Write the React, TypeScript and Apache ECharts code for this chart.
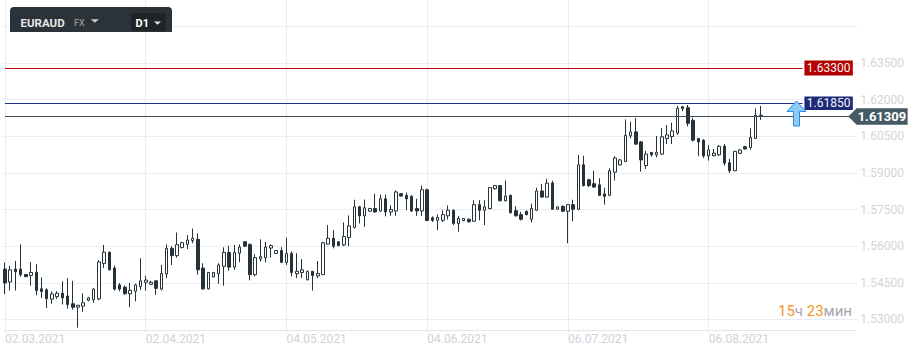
import React, { useEffect, useRef } from "react";
import * as echarts from "echarts";

// ---- data ----
const opens = [
  1.5506, 1.5453, 1.5506, 1.5506, 1.5484, 1.548, 1.5493, 1.5425, 1.5421, 1.5383,
  1.5393, 1.5407, 1.5396, 1.5364, 1.535, 1.5354, 1.5378, 1.5381, 1.5384, 1.5529,
  1.5575, 1.551, 1.5441, 1.5432, 1.5405, 1.5415, 1.5434, 1.5452, 1.5444, 1.5458,
  1.5424, 1.5486, 1.5591, 1.5561, 1.5594, 1.5607, 1.5623, 1.5628, 1.551, 1.5425,
  1.5474, 1.5487, 1.5517, 1.5574, 1.5514, 1.5571, 1.5618, 1.5607, 1.5483, 1.5548,
  1.5553, 1.5592, 1.557, 1.5582, 1.5533, 1.557, 1.5487, 1.5492, 1.5462, 1.5497,
  1.5478, 1.5483, 1.5608, 1.5632, 1.5618, 1.5605, 1.5635, 1.5676, 1.5761, 1.5724,
  1.5743, 1.5754, 1.5744, 1.5794, 1.574, 1.5744, 1.5815, 1.5808, 1.5804, 1.5754,
  1.5744, 1.5831, 1.5716, 1.5706, 1.5706, 1.5724, 1.5747, 1.5693, 1.5704, 1.571,
  1.5702, 1.577, 1.5747, 1.5754, 1.5835, 1.5848, 1.5786, 1.5808, 1.5745, 1.5729,
  1.5743, 1.571, 1.5747, 1.5826, 1.5801, 1.5859, 1.5751, 1.5763, 1.5743, 1.577,
  1.5751, 1.5933, 1.5872, 1.5856, 1.5851, 1.5814, 1.5808, 1.5903, 1.5933, 1.5946,
  1.6052, 1.6068, 1.6027, 1.593, 1.5984, 1.5974, 1.5977, 1.6041, 1.6049, 1.6063,
  1.6171, 1.6167, 1.6115, 1.6041, 1.6034, 1.597, 1.597, 1.5974, 1.6009, 1.5942,
  1.5909, 1.598, 1.6007, 1.6004, 1.6041, 1.6136,
];
const closes = [
  1.5449, 1.5503, 1.5495, 1.5483, 1.5475, 1.5492, 1.5418, 1.5414, 1.5385, 1.5404,
  1.5407, 1.5388, 1.5361, 1.535, 1.5358, 1.5368, 1.5388, 1.5424, 1.5535, 1.5575,
  1.5503, 1.5424, 1.5424, 1.5405, 1.5419, 1.5441, 1.5458, 1.5461, 1.5452, 1.5427,
  1.5488, 1.5591, 1.5561, 1.5606, 1.5614, 1.5625, 1.5632, 1.5503, 1.5425, 1.5492,
  1.5492, 1.5523, 1.5574, 1.5514, 1.5574, 1.5596, 1.56, 1.5483, 1.5553, 1.5557,
  1.5596, 1.5602, 1.5582, 1.5534, 1.557, 1.5492, 1.5497, 1.5503, 1.5497, 1.548,
  1.5488, 1.5614, 1.5632, 1.56, 1.5602, 1.5639, 1.5683, 1.5761, 1.5724, 1.5757,
  1.5754, 1.574, 1.5794, 1.574, 1.575, 1.5822, 1.5805, 1.5794, 1.5744, 1.5744,
  1.5831, 1.5705, 1.5706, 1.5717, 1.5729, 1.5747, 1.5693, 1.5713, 1.5713, 1.57,
  1.577, 1.5747, 1.5761, 1.584, 1.5848, 1.5786, 1.5805, 1.5737, 1.5724, 1.571,
  1.5729, 1.5754, 1.5826, 1.5801, 1.5858, 1.5751, 1.5761, 1.5743, 1.577, 1.5751,
  1.5933, 1.5848, 1.5848, 1.5842, 1.5808, 1.5804, 1.5909, 1.5961, 1.5953, 1.6054,
  1.6068, 1.6018, 1.5953, 1.5977, 1.5974, 1.5984, 1.6048, 1.6056, 1.6072, 1.6164,
  1.6163, 1.6103, 1.6034, 1.6027, 1.597, 1.5994, 1.5981, 1.6009, 1.594, 1.5909,
  1.5988, 1.5994, 1.5998, 1.6045, 1.6136, 1.61309,
];
const lows = [
  1.5404, 1.5418, 1.5418, 1.5475, 1.5473, 1.5438, 1.5399, 1.5388, 1.5347, 1.5364,
  1.5384, 1.5361, 1.5344, 1.534, 1.5266, 1.5331, 1.5374, 1.5368, 1.5378, 1.5511,
  1.55, 1.5418, 1.5415, 1.5401, 1.535, 1.5374, 1.5421, 1.5418, 1.5442, 1.5401,
  1.5419, 1.5469, 1.5523, 1.5553, 1.5591, 1.5588, 1.5612, 1.5483, 1.5421, 1.5423,
  1.5472, 1.5446, 1.5438, 1.5499, 1.5503, 1.5534, 1.5596, 1.546, 1.5476, 1.5537,
  1.5533, 1.5553, 1.5568, 1.553, 1.5523, 1.5476, 1.5469, 1.5469, 1.546, 1.5418,
  1.5469, 1.5482, 1.5607, 1.5591, 1.56, 1.56, 1.56, 1.5672, 1.5693, 1.5679,
  1.574, 1.5737, 1.574, 1.5722, 1.5724, 1.5724, 1.5803, 1.5747, 1.574, 1.5724,
  1.5724, 1.5702, 1.5699, 1.5665, 1.5699, 1.5709, 1.5686, 1.5659, 1.5702, 1.5696,
  1.57, 1.5706, 1.5686, 1.5751, 1.5831, 1.5783, 1.5783, 1.5733, 1.5722, 1.5705,
  1.5726, 1.5697, 1.5744, 1.5798, 1.5798, 1.575, 1.575, 1.574, 1.5612, 1.5702,
  1.5747, 1.5844, 1.5842, 1.5838, 1.5805, 1.577, 1.5805, 1.5869, 1.593, 1.5945,
  1.6041, 1.6014, 1.5905, 1.5916, 1.5966, 1.5964, 1.5974, 1.6018, 1.6018, 1.6056,
  1.6153, 1.609, 1.6029, 1.5968, 1.5961, 1.595, 1.5968, 1.597, 1.593, 1.5899,
  1.5907, 1.5978, 1.5996, 1.5995, 1.604, 1.6117,
];
const highs = [
  1.5533, 1.5519, 1.5539, 1.5607, 1.5486, 1.5535, 1.5526, 1.5472, 1.5427, 1.5415,
  1.5415, 1.5456, 1.5469, 1.5458, 1.5359, 1.5407, 1.5392, 1.5428, 1.5543, 1.5605,
  1.5578, 1.5521, 1.5449, 1.5438, 1.5449, 1.5446, 1.555, 1.5479, 1.5458, 1.5458,
  1.5523, 1.5607, 1.56, 1.5656, 1.5618, 1.5645, 1.5672, 1.5652, 1.553, 1.5494,
  1.5495, 1.553, 1.5595, 1.5602, 1.5605, 1.5607, 1.5618, 1.5611, 1.5567, 1.5628,
  1.5618, 1.5607, 1.5584, 1.5596, 1.5635, 1.5578, 1.5571, 1.5547, 1.5499, 1.5498,
  1.5539, 1.5618, 1.5686, 1.5665, 1.5621, 1.5697, 1.5726, 1.579, 1.5765, 1.5791,
  1.5757, 1.5815, 1.5811, 1.5811, 1.5767, 1.5828, 1.5817, 1.5819, 1.5808, 1.5794,
  1.5848, 1.5835, 1.5722, 1.5729, 1.5747, 1.5767, 1.575, 1.5724, 1.5715, 1.5713,
  1.5788, 1.5788, 1.5788, 1.5842, 1.5851, 1.5849, 1.5869, 1.5811, 1.5763, 1.574,
  1.5745, 1.5774, 1.5839, 1.5855, 1.5876, 1.5868, 1.5762, 1.5767, 1.577, 1.579,
  1.5973, 1.597, 1.5876, 1.5909, 1.5878, 1.5839, 1.5919, 1.5968, 1.5957, 1.6119,
  1.611, 1.6125, 1.6031, 1.599, 1.5984, 1.6051, 1.6083, 1.6096, 1.6106, 1.6174,
  1.6174, 1.6178, 1.6126, 1.6041, 1.6038, 1.6014, 1.5998, 1.6014, 1.6018, 1.5957,
  1.599, 1.5998, 1.6011, 1.6083, 1.6164, 1.6174,
];

const tickLabels = ["02.03.2021", "02.04.2021", "04.05.2021", "04.06.2021", "06.07.2021", "06.08.2021"];
const yTickMin = 1.515;
const yTickMax = 1.65;
const yTickStep = 0.015;

const resistanceLevel = 1.633;
const orderLevel = 1.6185;
const lastPrice = 1.61309;

const timerHours = "15";
const timerMinutes = "23";

// categories: trading days (Sunday–Friday), starting 02.03.2021, plus empty slots to the right
const slotCount = 164;
const pad = (n: number) => String(n).padStart(2, "0");
function buildCategories(): string[] {
  const out: string[] = [];
  let t = Date.UTC(2021, 2, 2);
  while (out.length < slotCount) {
    const d = new Date(t);
    if (d.getUTCDay() !== 6) {
      out.push(`${pad(d.getUTCDate())}.${pad(d.getUTCMonth() + 1)}.${d.getUTCFullYear()}`);
    }
    t += 86400000;
  }
  return out;
}
const categories = buildCategories();

export default function App() {
  const ref = useRef<HTMLDivElement>(null);

  useEffect(() => {
    document.body.style.margin = "0";
    if (!ref.current) return;
    const chart = echarts.init(ref.current, undefined, { renderer: "svg" });

    const candles = opens.map((o, i) => [o, closes[i], lows[i], highs[i]]);
    const isTick = (_i: number, v: string) => tickLabels.includes(v);
    const dark = "#263238";
    const gridColor = "#ebebf4";
    const font = "Roboto";

    const levelLine = (value: number, color: string, endIdx: number) => [
      { xAxis: categories[0], yAxis: value, lineStyle: { color, width: 1, type: "solid" } },
      { xAxis: categories[endIdx], yAxis: value },
    ];

    const option: any = {
      animation: false,
      backgroundColor: "#ffffff",
      textStyle: { fontFamily: font },
      grid: [
        { left: 2.4, right: 62.7, top: 26.4, bottom: -2.5 },
        { left: 5, right: 65.3, top: 0, bottom: 26 },
      ],
      xAxis: [
        { type: "category", gridIndex: 0, data: categories, boundaryGap: true, show: false },
        {
          type: "category",
          gridIndex: 1,
          data: categories,
          boundaryGap: false,
          axisLine: { show: true, lineStyle: { color: "#e3e3ee", width: 1 } },
          axisTick: { show: true, length: 3, interval: isTick, lineStyle: { color: "#e3e3ee" } },
          splitLine: { show: true, interval: isTick, lineStyle: { color: gridColor, width: 1 } },
          axisLabel: {
            interval: isTick,
            align: "left",
            margin: 3,
            color: "#d0d1d8",
            fontSize: 12,
            fontFamily: font,
          },
        },
      ],
      yAxis: [
        {
          type: "value",
          gridIndex: 0,
          position: "right",
          min: yTickMin,
          max: yTickMax,
          interval: yTickStep,
          axisLine: { show: false },
          axisTick: { show: false },
          splitLine: { show: true, lineStyle: { color: gridColor, width: 1 } },
          axisLabel: {
            margin: 3,
            color: "#d3d5d9",
            fontSize: 12,
            fontFamily: font,
            showMinLabel: false,
            showMaxLabel: false,
            formatter: (v: number) => v.toFixed(5),
          },
        },
        { type: "value", gridIndex: 1, show: false, min: 0, max: 1, splitLine: { show: false } },
      ],
      series: [
        {
          type: "candlestick",
          xAxisIndex: 0,
          yAxisIndex: 0,
          data: candles,
          barWidth: 3,
          itemStyle: {
            color: "#ffffff",
            color0: dark,
            borderColor: dark,
            borderColor0: dark,
            borderWidth: 1,
          },
          markLine: {
            silent: true,
            symbol: ["none", "none"],
            label: { show: false },
            data: [
              levelLine(resistanceLevel, "#c00000", 153),
              levelLine(orderLevel, "#262f96", 153),
              levelLine(lastPrice, "#3b4a52", 162),
            ],
          },
          markPoint: {
            silent: true,
            data: [
              {
                coord: [categories[158], resistanceLevel],
                symbol: "rect",
                symbolSize: [48.4, 15],
                itemStyle: { color: "#b50000" },
                label: { show: true, position: "inside", formatter: resistanceLevel.toFixed(5), color: "#f4f4f4", fontSize: 12, fontFamily: font },
              },
              {
                coord: [categories[158], orderLevel],
                symbol: "rect",
                symbolSize: [48.4, 13.5],
                itemStyle: { color: "#1e297a" },
                label: { show: true, position: "inside", formatter: orderLevel.toFixed(5), color: "#f4f4f4", fontSize: 12, fontFamily: font },
              },
              {
                coord: [categories[158], lastPrice],
                symbol: "path://M0,8.3L8.4,0L59.4,0L59.4,16.6L8.4,16.6Z",
                symbolSize: [59.4, 16.6],
                symbolOffset: [49.3, 0],
                itemStyle: { color: "#455a64" },
                label: {
                  show: true,
                  position: "inside",
                  offset: [4, 0],
                  formatter: lastPrice.toFixed(5),
                  color: "#ffffff",
                  fontSize: 13,
                  fontWeight: "bold",
                  fontFamily: font,
                },
              },
            ],
          },
        },
      ],
      graphic: [
        {
          type: "polygon",
          z: 100,
          shape: {
            points: [
              [796.5, 101], [806, 111.5], [799.5, 111.5], [799.5, 126],
              [793.5, 126], [793.5, 111.5], [787, 111.5],
            ],
          },
          style: { fill: "#8ccaf7", stroke: "#2a8de6", lineWidth: 1 },
        },
        {
          type: "rect",
          z: 100,
          shape: { x: 10, y: 7, width: 162, height: 25, r: [4, 4, 0, 0] },
          style: { fill: "#2c3338" },
        },
        {
          type: "rect",
          z: 101,
          shape: { x: 131, y: 13, width: 35, height: 18, r: 2 },
          style: { fill: "#1e2428" },
        },
        {
          type: "text",
          z: 102,
          x: 20.5,
          y: 22.5,
          style: { text: "EURAUD", fill: "#e6e8ea", font: `bold 11.5px ${font}`, verticalAlign: "middle" },
        },
        {
          type: "text",
          z: 102,
          x: 74,
          y: 22.5,
          style: { text: "FX", fill: "#8d959c", font: `500 9px ${font}`, verticalAlign: "middle" },
        },
        {
          type: "polygon",
          z: 102,
          shape: { points: [[90.7, 19.3], [99, 19.3], [94.85, 22.8]] },
          style: { fill: "#c5cacf" },
        },
        {
          type: "text",
          z: 102,
          x: 135.5,
          y: 23,
          style: { text: "D1", fill: "#ffffff", font: `bold 11px ${font}`, verticalAlign: "middle" },
        },
        {
          type: "polygon",
          z: 102,
          shape: { points: [[154, 21.5], [161, 21.5], [157.5, 24.8]] },
          style: { fill: "#e2e4e6" },
        },
        {
          type: "text",
          z: 102,
          x: 852,
          y: 311,
          style: {
            text: `{o|${timerHours}}{g|ч} {o|${timerMinutes}}{g|мин}`,
            align: "right",
            verticalAlign: "middle",
            font: `15px ${font}`,
            fill: "#a3a7ab",
            rich: {
              o: { fill: "#f7931e", fontSize: 15, fontFamily: font },
              g: { fill: "#a3a7ab", fontSize: 15, fontFamily: font },
            },
          },
        },
      ],
    };

    chart.setOption(option);
    return () => chart.dispose();
  }, []);

  return <div ref={ref} style={{ width: 920, height: 356 }} />;
}
